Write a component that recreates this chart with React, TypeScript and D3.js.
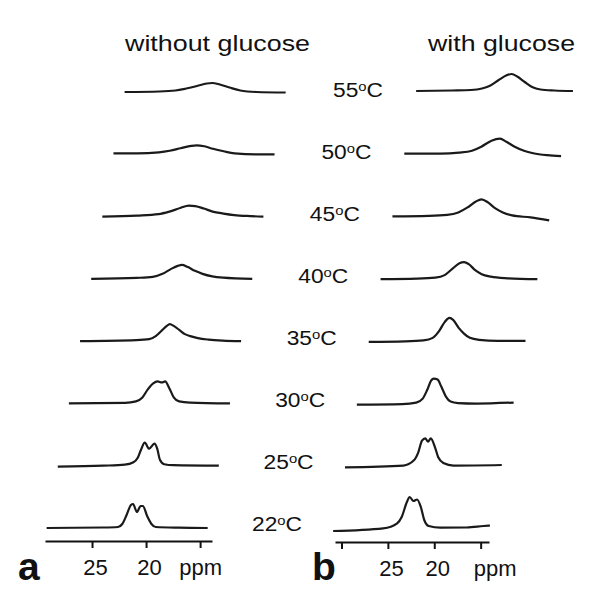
import React, { useEffect, useRef } from 'react';
import * as d3 from 'd3';

// temperatures of the stacked spectra, bottom to top
const temperatures = [22, 25, 30, 35, 40, 45, 50, 55];
const titles = ['without glucose', 'with glucose'];
const ticksA = [25, 20, 15];
const tickLabelsA = ['25', '20', 'ppm'];
const ticksB = [30, 25, 20, 15];
const tickLabelsB = ['', '25', '20', 'ppm'];

// spectra: [ppm, intensity (a.u.)]
const a22 = [[29.2, 0], [24, 0.5], [22.6, 1], [22.2, 4], [21.8, 13], [21.4, 23], [21.2, 24], [20.85, 16], [20.5, 22], [20.3, 22], [19.9, 12], [19.5, 4], [19.1, 1], [17, 0.3], [14.3, 0]];
const a25 = [[29.2, -1], [25, 0], [23, 1], [22.2, 3.5], [21.8, 8], [21.5, 16], [21.15, 23], [20.75, 17], [20.25, 22], [20.0, 17], [19.75, 6], [19.35, 1.5], [18.5, 0.5], [14.3, 0]];
const a30 = [[29.2, 0], [24, 0.5], [23, 2], [22.4, 6], [21.9, 14], [21.4, 20], [21.0, 22], [20.6, 21], [20.3, 22], [19.9, 15], [19.5, 6], [19.0, 2], [18, 0.8], [14.3, 0]];
const a35 = [[29.2, 0], [24, 1], [22.8, 2], [22.2, 5], [21.6, 11], [21.2, 15], [20.9, 17], [20.5, 15], [20.0, 11], [19.5, 7], [19.0, 5], [18.3, 3], [17.3, 1.5], [16, 0.5], [14.3, 0]];
const a40 = [[29.2, 0], [25, 1], [23.5, 2], [22.6, 5], [21.8, 10], [21.2, 13], [20.8, 14], [20.3, 12], [19.6, 8], [18.9, 5], [18.0, 2.5], [17, 1.2], [14.3, 0]];
const a45 = [[29.2, 0], [26, 1], [24, 2.5], [23, 5], [22, 8.5], [21.2, 11], [20.6, 10.5], [19.8, 8], [19, 5], [18, 3], [17, 1.5], [15.5, 0.5], [14.3, 0]];
const a50 = [[29.2, 1], [27, 1], [25, 2], [24, 3.5], [23, 6], [22, 8.5], [21.5, 9], [20.8, 8], [20, 5.5], [19, 3], [18, 1], [16, 0], [14.3, 0]];
const a55 = [[29.2, 0], [26, 0.5], [24.5, 1.5], [23.5, 3.5], [22.5, 6], [21.6, 8.5], [21.1, 9], [20.4, 7.5], [19.5, 4.5], [18.5, 1.5], [17, 0], [14.3, -0.5]];

const b22 = [[30.9, -1], [25.5, 1.7], [24.0, 6.7], [23.5, 13.3], [22.95, 28], [22.65, 33], [22.25, 29], [21.85, 30.5], [21.45, 23], [21.08, 10], [20.6, 4], [19.35, 2.3], [16.5, 2.5], [14.7, 4], [14.0, 4.5]];
const b25 = [[30.9, 0], [24.6, 1.7], [23.5, 6.7], [23.0, 15], [22.6, 26.7], [22.25, 29], [21.95, 25.7], [21.65, 29], [21.2, 20], [20.85, 10], [20.3, 4.3], [19.2, 1.7], [14.0, 2.3]];
const b30 = [[30.9, 0], [26, 0.5], [24.5, 2], [23.8, 6], [23.3, 15], [22.9, 24], [22.6, 26], [22.2, 25], [21.8, 18], [21.3, 8], [20.8, 3], [20, 1.5], [18, 1], [14, 2]];
const b35 = [[30.9, 0], [27, 0.5], [25, 1.5], [24, 4], [23.3, 11], [22.7, 20], [22.2, 24], [21.8, 22], [21.2, 14], [20.6, 8], [20, 4], [19, 2], [17, 1], [14, 1]];
const b40 = [[30.9, 0], [27, 0.5], [25, 1.5], [24, 4], [23.2, 10], [22.4, 16], [21.9, 17], [21.4, 15], [20.7, 9], [20, 5], [19, 2.5], [17.5, 1], [14, 0]];
const b45 = [[30.9, 0], [27, 0.5], [25, 1.5], [23.8, 4], [22.8, 9], [21.9, 15], [21.3, 17], [20.6, 14], [19.8, 8], [19, 4], [18, 1], [16, -1], [14, -4]];
const b50 = [[30.9, 0], [27, 0], [25, 1], [23.6, 3], [22.6, 7], [21.5, 13], [20.6, 15], [19.9, 12], [19, 7], [18, 3], [17, 0.5], [15.5, -1.5], [14, -2.5]];
const b55 = [[30.9, 0], [27, 0.5], [25, 1], [23.8, 2.5], [23, 5], [22, 11], [21.2, 15.5], [20.6, 17], [20, 14.5], [19.2, 9], [18.4, 4], [17.5, 1.5], [16, 0.5], [14, 0]];

const spectraA = [a22, a25, a30, a35, a40, a45, a50, a55];
const spectraB = [b22, b25, b30, b35, b40, b45, b50, b55];

const FONT = '"Liberation Sans", Arial, Helvetica, sans-serif';

const App = () => {
  const ref = useRef<SVGSVGElement | null>(null);

  useEffect(() => {
    const svg = d3.select(ref.current);
    svg.selectAll('*').remove();

    const panels = [
      { spectra: spectraA, x: d3.scaleLinear().domain([29.35, 13.9]).range([45, 212]), ticks: ticksA, labels: tickLabelsA,
        baseY: [528, 92], shift: [0, 78], axisY: 541, letter: 'a', letterX: 18, ppmDx: 0, titleX: 125, titleW: 185 },
      { spectra: spectraB, x: d3.scaleLinear().domain([30.7, 14.1]).range([335, 489]), ticks: ticksB, labels: tickLabelsB,
        baseY: [530, 91], shift: [0, 83], axisY: 542, letter: 'b', letterX: 312, ppmDx: 14, titleX: 428, titleW: 147 },
    ];

    const yInt = d3.scaleLinear().domain([0, 40]).range([0, -40]);

    panels.forEach((p, pi) => {
      const stackY = d3.scalePoint<number>().domain(temperatures).range(p.baseY);
      const stackX = d3.scalePoint<number>().domain(temperatures).range(p.shift);
      const line = d3.line<number[]>()
        .x(d => p.x(d[0]))
        .y(d => yInt(d[1]))
        .curve(d3.curveMonotoneX);

      const g = svg.append('g');
      temperatures.forEach((t, i) => {
        g.append('path')
          .attr('transform', `translate(${stackX(t)},${stackY(t)})`)
          .attr('d', line(p.spectra[i]))
          .attr('fill', 'none')
          .attr('stroke', '#1a1a1a')
          .attr('stroke-width', 2.2)
          .attr('stroke-linejoin', 'round');
      });

      // ppm axis
      const axis = svg.append('g')
        .attr('transform', `translate(0,${p.axisY})`)
        .call(d3.axisBottom(p.x).tickValues(p.ticks).tickSize(7).tickSizeOuter(0)
          .tickFormat((d, i) => p.labels[i]));
      axis.select('.domain').attr('stroke', '#111').attr('stroke-width', 2);
      axis.selectAll('.tick line').attr('stroke', '#111').attr('stroke-width', 2);
      axis.selectAll('.tick text')
        .attr('y', 34).attr('dy', 0)
        .attr('dx', (d, i) => (p.labels[i] === 'ppm' ? p.ppmDx : 3))
        .attr('fill', '#111')
        .style('font-family', FONT)
        .style('font-size', '22px');

      // panel letter
      svg.append('text')
        .attr('x', p.letterX).attr('y', 580)
        .attr('font-family', FONT).attr('font-size', 39).attr('font-weight', 'bold')
        .attr('fill', '#111')
        .text(p.letter);

      // title
      svg.append('text')
        .attr('x', p.titleX).attr('y', 51)
        .attr('font-family', FONT).attr('font-size', 22)
        .attr('textLength', p.titleW).attr('lengthAdjust', 'spacingAndGlyphs')
        .attr('fill', '#111')
        .text(titles[pi]);
    });

    // temperature labels between the panels
    const labelX = d3.scalePoint<number>().domain(temperatures).range([252, 333]);
    const labelY = d3.scalePoint<number>().domain(temperatures).range([531, 97]);
    temperatures.forEach(t => {
      const txt = svg.append('text')
        .attr('x', labelX(t)).attr('y', labelY(t))
        .attr('textLength', 50).attr('lengthAdjust', 'spacingAndGlyphs')
        .attr('font-family', FONT).attr('font-size', 20)
        .attr('fill', '#111');
      txt.append('tspan').text(`${t}`);
      txt.append('tspan').attr('font-size', 13).attr('dy', -6).text('o');
      txt.append('tspan').attr('dy', 6).text('C');
    });
  }, []);

  return (
    <svg ref={ref} width={601} height={597}
      style={{ position: 'absolute', left: 0, top: 0, background: '#fff' }} />
  );
};

export default App;
